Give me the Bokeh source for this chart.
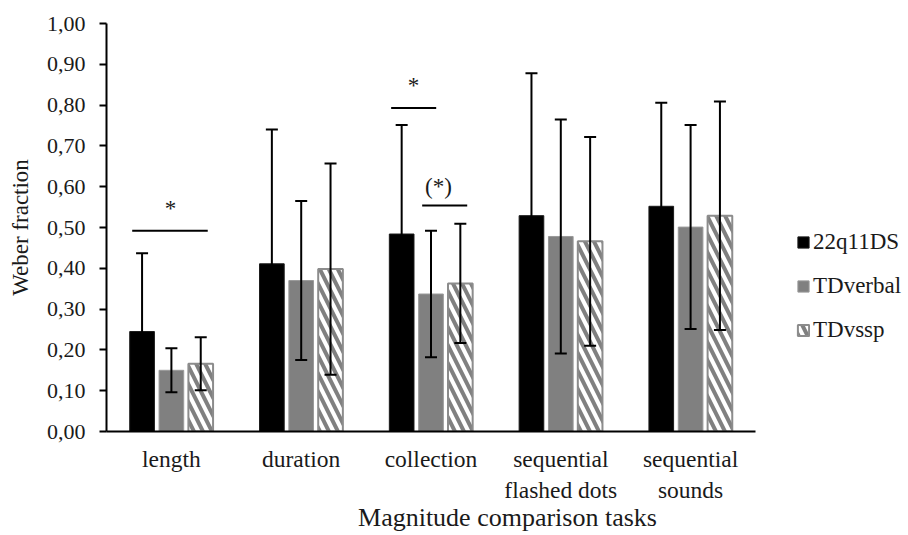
from bokeh.plotting import figure
from bokeh.models import (ColumnDataSource, Whisker, TeeHead, Legend, LegendItem,
                          FixedTicker, Range1d)
from bokeh.transform import dodge
from bokeh.core.properties import value
from bokeh.embed import file_html
from bokeh.resources import INLINE

# ---------------- data ----------------
tasks = ["length", "duration", "collection", "sequential\nflashed dots", "sequential\nsounds"]
groups = ["22q11DS", "TDverbal", "TDvssp"]

mean_22q = [0.245, 0.411, 0.484, 0.529, 0.552]
sd_22q = [0.192, 0.329, 0.267, 0.349, 0.254]
mean_verbal = [0.150, 0.370, 0.337, 0.478, 0.501]
sd_verbal = [0.054, 0.195, 0.155, 0.287, 0.250]
mean_vssp = [0.166, 0.398, 0.363, 0.466, 0.529]
sd_vssp = [0.065, 0.259, 0.146, 0.256, 0.280]

y_ticks = [0, 0.1, 0.2, 0.3, 0.4, 0.5, 0.6, 0.7, 0.8, 0.9, 1.0]
y_tick_labels = ["0,00", "0,10", "0,20", "0,30", "0,40", "0,50",
                 "0,60", "0,70", "0,80", "0,90", "1,00"]

# significance annotations
sig_task = ["length", "collection", "collection"]
sig_y = [0.492, 0.793, 0.554]
sig_x0_off = [-0.302, -0.307, -0.068]
sig_x1_off = [0.280, 0.040, 0.279]
sig_label = ["*", "*", "(*)"]
sig_label_off = [-0.007, -0.135, 0.058]
sig_label_y = [0.547, 0.848, 0.600]

FONT = "Liberation Serif"
TXT = "#1a1a1a"

# category positions (centre of each category slot on a numeric scale)
task_pos = [i + 0.5 for i in range(len(tasks))]
n_tasks = len(tasks)
# extra room on the right of the frame (for the legend), in category units
x_end = n_tasks * (802.0 / 649.0)

p = figure(width=908, height=535,
           x_range=Range1d(0, x_end),
           y_range=Range1d(0, 1),
           output_backend="svg", toolbar_location=None,
           min_border_left=106, min_border_right=0,
           min_border_top=23, min_border_bottom=104)
p.outline_line_color = None
p.xgrid.grid_line_color = None
p.ygrid.grid_line_color = None

offsets = [-0.226, 0.0, 0.226]
means = [mean_22q, mean_verbal, mean_vssp]
sds = [sd_22q, sd_verbal, sd_vssp]
styles = [
    dict(fill_color="black", line_color="#1a1a1a", line_width=1),
    dict(fill_color="#808080", line_color="#9a9a9a", line_width=1),
    dict(fill_color="white", line_color="#8c8c8c", line_width=2,
         hatch_pattern="\\", hatch_color="#808080", hatch_weight=4, hatch_scale=18),
]

renderers = []
for off, m, s, st in zip(offsets, means, sds, styles):
    src = ColumnDataSource(dict(
        pos=task_pos, top=m,
        upper=[a + b for a, b in zip(m, s)],
        lower=[a - b for a, b in zip(m, s)],
    ))
    r = p.vbar(x=dodge("pos", off), top="top", width=0.19, source=src, **st)
    renderers.append(r)
    w = Whisker(source=src, base=dodge("pos", off),
                upper="upper", lower="lower", line_width=2, line_color="black",
                upper_head=TeeHead(size=12, line_width=2, line_color="black"),
                lower_head=TeeHead(size=12, line_width=2, line_color="black"),
                level="annotation")
    p.add_layout(w)

for t, y, a, b, lab, lo, ly in zip(sig_task, sig_y, sig_x0_off, sig_x1_off,
                                   sig_label, sig_label_off, sig_label_y):
    c = task_pos[tasks.index(t)]
    s = ColumnDataSource(dict(pos=[c], y=[y], ly=[ly], label=[lab]))
    p.segment(x0=dodge("pos", a), y0="y", x1=dodge("pos", b), y1="y",
              line_color="black", line_width=2, source=s)
    p.text(x=dodge("pos", lo), y="ly", text="label", source=s,
           text_font=value(FONT), text_font_size="23px", text_color=TXT,
           text_align="center", text_baseline="middle")

# axes
p.yaxis.ticker = FixedTicker(ticks=y_ticks)
p.yaxis.major_label_overrides = {t: l for t, l in zip(y_ticks, y_tick_labels)}
p.yaxis.minor_tick_line_color = None
p.yaxis.major_tick_in = 0
p.yaxis.major_tick_out = 7
p.yaxis.major_tick_line_width = 2
p.yaxis.axis_line_width = 2
p.yaxis.axis_line_color = "black"
p.yaxis.major_tick_line_color = "black"
p.yaxis.major_label_text_font = FONT
p.yaxis.major_label_text_font_size = "22px"
p.yaxis.major_label_text_color = TXT
p.yaxis.major_label_standoff = 14
p.yaxis.axis_label = "Weber fraction"
p.yaxis.axis_label_text_font = FONT
p.yaxis.axis_label_text_font_size = "23px"
p.yaxis.axis_label_text_font_style = "normal"
p.yaxis.axis_label_text_color = TXT
p.yaxis.axis_label_standoff = 11

p.xaxis.ticker = FixedTicker(ticks=task_pos)
p.xaxis.major_label_overrides = {t: l for t, l in zip(task_pos, tasks)}
p.xaxis.bounds = (0, n_tasks)
p.xaxis.major_tick_line_color = None
p.xaxis.minor_tick_line_color = None
p.xaxis.axis_line_width = 2
p.xaxis.axis_line_color = "black"
p.xaxis.major_label_text_font = FONT
p.xaxis.major_label_text_font_size = "23.5px"
p.xaxis.major_label_text_color = TXT
p.xaxis.major_label_standoff = 8
p.xaxis.axis_label = "Magnitude comparison tasks"
p.xaxis.axis_label_text_font = FONT
p.xaxis.axis_label_text_font_size = "26px"
p.xaxis.axis_label_text_font_style = "normal"
p.xaxis.axis_label_text_color = TXT
p.xaxis.axis_label_standoff = -3

legend = Legend(items=[LegendItem(label=g, renderers=[r]) for g, r in zip(groups, renderers)],
                location=(690, 88), orientation="vertical",
                glyph_width=14, glyph_height=14, label_standoff=3,
                label_height=24, spacing=18, padding=0, margin=0,
                label_text_font="serif", label_text_font_size="23px",
                label_text_color=TXT, label_text_baseline="middle",
                border_line_color=None, background_fill_alpha=0)
p.add_layout(legend, "center")

open("out.html", "w").write(file_html(p, INLINE))
